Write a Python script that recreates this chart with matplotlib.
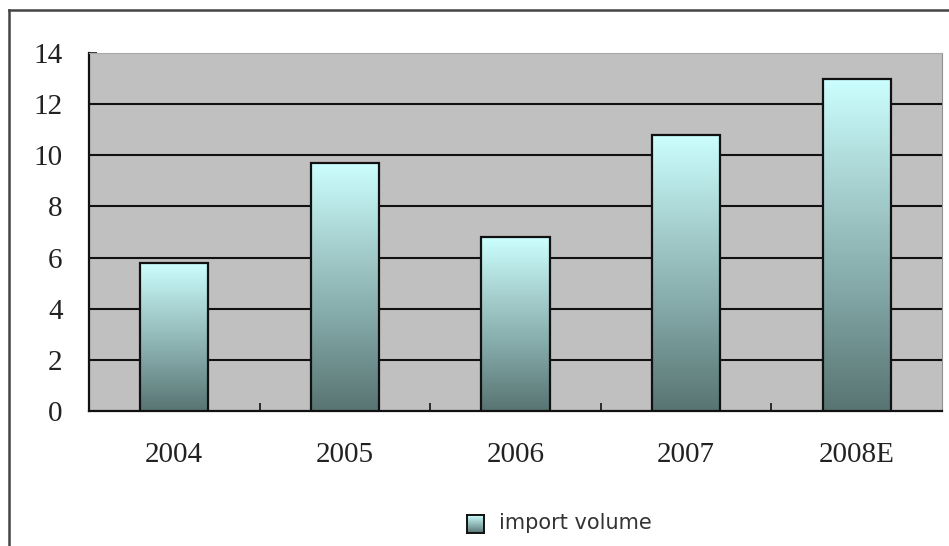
import numpy as np
import matplotlib
matplotlib.use("Agg")
import matplotlib.pyplot as plt
from matplotlib.colors import LinearSegmentedColormap
from matplotlib.lines import Line2D

# data
years = ['2004', '2005', '2006', '2007', '2008E']
import_volume = [5.8, 9.7, 6.8, 10.8, 13.0]
series_name = 'import volume'

W, H = 949, 546
fig = plt.figure(figsize=(W / 100, H / 100), dpi=100)
fig.patch.set_facecolor('white')

# plot area in pixel coords
left, right, top, bottom = 89, 942, 53, 411
ax = fig.add_axes([left / W, 1 - bottom / H, (right - left) / W, (bottom - top) / H])
ax.set_facecolor('#c0c0c0')

# gradient: light cyan at top, dark slate at bottom
cmap = LinearSegmentedColormap.from_list('bar', ['#587472', '#7fa4a3', '#a6d0cf', '#ccffff'])
grad = np.linspace(0, 1, 256).reshape(-1, 1)

x = np.arange(len(years))
bw = 0.4
bars = ax.bar(x, import_volume, width=bw, facecolor='none', edgecolor='#111111',
              linewidth=1.6, zorder=4)
for b in bars:
    x0, w, h = b.get_x(), b.get_width(), b.get_height()
    ax.imshow(grad, cmap=cmap, origin='lower', aspect='auto',
              extent=(x0, x0 + w, 0, h), zorder=3, interpolation='bicubic')

ax.set_xlim(-0.5, len(years) - 0.5)
ax.set_ylim(0, 14)
ax.set_yticks(range(0, 15, 2))
for yv in range(2, 14, 2):
    ax.axhline(yv, color='#111111', linewidth=1.5, zorder=2)

ax.set_xticks(x)
ax.set_xticklabels(years)
ax.set_xticks(np.arange(0.5, len(years) - 0.5, 1), minor=True)
ax.tick_params(axis='x', which='major', length=0, pad=22, labelsize=21, labelcolor='#222222')
ax.tick_params(axis='x', which='minor', direction='in', length=6, width=1.2, color='#111111')
ax.tick_params(axis='y', direction='in', length=6, width=1.2, color='#111111',
               pad=19, labelsize=21, labelcolor='#222222')
for lab in ax.get_xticklabels() + ax.get_yticklabels():
    lab.set_family('Liberation Serif')

ax.spines['left'].set_color('#111111')
ax.spines['bottom'].set_color('#111111')
ax.spines['left'].set_linewidth(1.6)
ax.spines['bottom'].set_linewidth(1.6)
ax.spines['top'].set_color('#a8a8a8')
ax.spines['right'].set_color('#909090')

# outer frame (left and top only)
fig.add_artist(Line2D([9 / W, 9 / W], [0, 1 - 10 / H], color='#444444', linewidth=1.8))
fig.add_artist(Line2D([9 / W, 1], [1 - 10 / H, 1 - 10 / H], color='#444444', linewidth=1.8))

# legend: small gradient square + text
lax = fig.add_axes([467 / W, 1 - 533 / H, 17 / W, 18 / H])
lax.imshow(grad, cmap=cmap, origin='lower', aspect='auto', extent=(0, 1, 0, 1))
lax.set_xticks([])
lax.set_yticks([])
for s in lax.spines.values():
    s.set_color('#111111')
    s.set_linewidth(1.4)
fig.text(499 / W, 1 - 523 / H, series_name, fontsize=15, family='DejaVu Sans',
         color='#333333', va='center', ha='left')

fig.savefig('out.png', dpi=100)
